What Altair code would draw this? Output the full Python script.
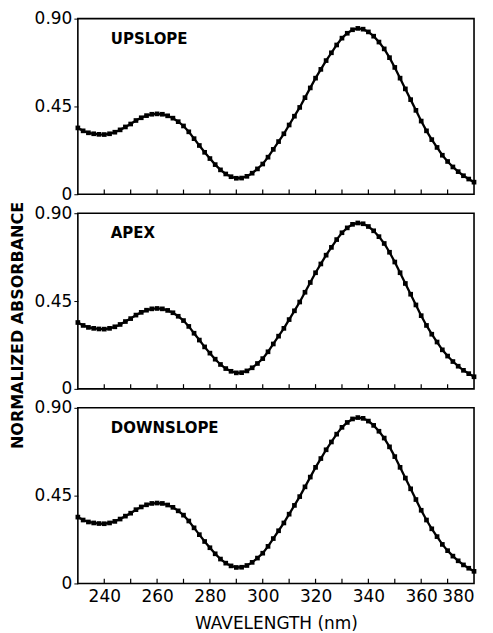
import altair as alt
import pandas as pd

panels = ["UPSLOPE", "APEX", "DOWNSLOPE"]
wavelength = list(range(230, 382, 2))
absorbance = [
    0.340, 0.325, 0.315, 0.310, 0.307, 0.306, 0.310, 0.318, 0.330, 0.345,
    0.360, 0.378, 0.392, 0.403, 0.410, 0.412, 0.410, 0.402, 0.390, 0.372,
    0.350, 0.320, 0.285, 0.250, 0.215, 0.183, 0.152, 0.125, 0.104, 0.090,
    0.082, 0.083, 0.092, 0.108, 0.130, 0.155, 0.190, 0.230, 0.270, 0.310,
    0.355, 0.400, 0.445, 0.495, 0.545, 0.595, 0.640, 0.685, 0.725, 0.765,
    0.800, 0.825, 0.843, 0.850, 0.846, 0.832, 0.810, 0.780, 0.745, 0.700,
    0.650, 0.595, 0.540, 0.485, 0.430, 0.375, 0.325, 0.280, 0.240, 0.200,
    0.168, 0.140, 0.116, 0.095, 0.078, 0.062,
]
x_ticks = [240, 250, 260, 270, 280, 290, 300, 310, 320, 330, 340, 350, 360, 370]
x_labels = [240, 260, 280, 300, 320, 340, 360, 380]
y_ticks = [0, 0.45, 0.90]

FONT = "DejaVu Sans"
W, H = 397, 176

curve = pd.DataFrame({"wl": wavelength, "abs": absorbance})
ticks = pd.DataFrame({"wl": x_ticks, "lo": [0.0] * len(x_ticks), "hi": [0.024] * len(x_ticks)})

xscale = alt.Scale(domain=[230, 380], nice=False, zero=False)
yscale = alt.Scale(domain=[0, 0.9], nice=False)


def panel(name, show_x, show_ytitle):
    xaxis = (
        alt.Axis(values=x_labels, title="WAVELENGTH (nm)", ticks=False, labelPadding=5,
                 labelFontSize=17, titleFontSize=17, titleFontWeight="normal",
                 titlePadding=11, grid=False, domain=False)
        if show_x else None
    )
    yaxis = alt.Axis(
        values=y_ticks, labelExpr="datum.value == 0 ? '0' : format(datum.value, '.2f')",
        tickSize=4, labelPadding=2, labelFontSize=17, grid=False, domain=False,
        title="NORMALIZED    ABSORBANCE" if show_ytitle else None,
        titleFontSize=16, titleFontWeight="bold", titlePadding=9, titleY=112,
    )
    base = alt.Chart(curve)
    line = base.mark_line(color="black", strokeWidth=2.3).encode(
        x=alt.X("wl:Q", scale=xscale, axis=xaxis),
        y=alt.Y("abs:Q", scale=yscale, axis=yaxis),
    )
    pts = base.mark_square(color="black", size=22, opacity=1).encode(
        x=alt.X("wl:Q", scale=xscale),
        y=alt.Y("abs:Q", scale=yscale),
    )
    tk = alt.Chart(ticks).mark_rule(color="black", strokeWidth=1.2).encode(
        x=alt.X("wl:Q", scale=xscale),
        y=alt.Y("lo:Q", scale=yscale),
        y2="hi:Q",
    )
    lbl = alt.Chart(pd.DataFrame({"t": [name]})).mark_text(
        align="left", baseline="middle", fontSize=15, fontWeight="bold", font=FONT, color="black"
    ).encode(text="t:N", x=alt.value(33), y=alt.value(20))
    return alt.layer(line, pts, tk, lbl).properties(width=W, height=H)


chart = alt.vconcat(
    panel(panels[0], False, False),
    panel(panels[1], False, True),
    panel(panels[2], True, False),
    spacing=19,
    bounds="flush",
).configure(
    font=FONT,
    background="white",
    padding={"left": 0, "top": 0, "right": 5, "bottom": 0},
).configure_view(
    stroke="black", strokeWidth=1.6
).configure_axis(
    labelColor="black", titleColor="black", tickColor="black", labelFont=FONT, titleFont=FONT
)

chart.save("out.html", embed_options={"renderer": "svg", "actions": False})
